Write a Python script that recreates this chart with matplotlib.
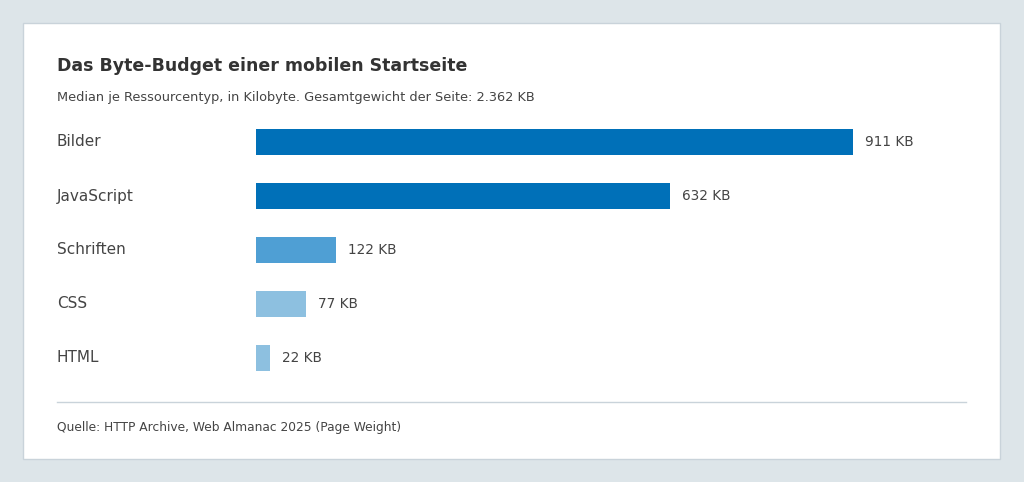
import matplotlib
matplotlib.use("Agg")
import matplotlib.pyplot as plt
import matplotlib.transforms as mtrans
from matplotlib.patches import Rectangle
from matplotlib.lines import Line2D

plt.rcParams['font.family'] = ['DejaVu Sans']

categories = ["Bilder", "JavaScript", "Schriften", "CSS", "HTML"]
values = [911, 632, 122, 77, 22]
colors = ["#0070b8", "#0070b8", "#4f9fd4", "#8dc0e0", "#8dc0e0"]
title = "Das Byte-Budget einer mobilen Startseite"
subtitle = "Median je Ressourcentyp, in Kilobyte. Gesamtgewicht der Seite: 2.362 KB"
source = "Quelle: HTTP Archive, Web Almanac 2025 (Page Weight)"

W, H = 1024, 482
fig = plt.figure(figsize=(W/100, H/100), dpi=100, facecolor="#dde5e9")
card = Rectangle((23/W, 1-459/H), 977/W, 436/H, transform=fig.transFigure,
                 facecolor="white", edgecolor="#c9d3da", lw=1, zorder=-10)
fig.patches.append(card)
fig.text(57/W, 1-66/H, title, fontsize=12.5, fontweight="bold", color="#333333", va="center")
fig.text(57/W, 1-97/H, subtitle, fontsize=9.3, color="#444444", va="center")
fig.add_artist(Line2D([57/W, 966/W], [1-402/H]*2, color="#c9d3da", lw=1, transform=fig.transFigure))
fig.text(57/W, 1-428/H, source, fontsize=8.8, color="#444444", va="center")

ax = fig.add_axes([256/W, 1-385/H, 597/W, 270/H], zorder=5)
ax.patch.set_alpha(0)
ax.set_xlim(0, 911)
ax.set_ylim(4.5, -0.5)
y = list(range(len(categories)))
ax.barh(y, values, height=0.463, color=colors)
for i, v in enumerate(values):
    ax.text(v + 18, i, f"{v} KB", va="center", ha="left", fontsize=9.8, color="#444444", clip_on=False)
tr = mtrans.blended_transform_factory(fig.transFigure, ax.transData)
for i, c in enumerate(categories):
    ax.text(57/W, i, c, transform=tr, fontsize=11, color="#444444", va="center", ha="left", clip_on=False)
ax.axis("off")
fig.savefig("out.png", dpi=100, facecolor=fig.get_facecolor())
